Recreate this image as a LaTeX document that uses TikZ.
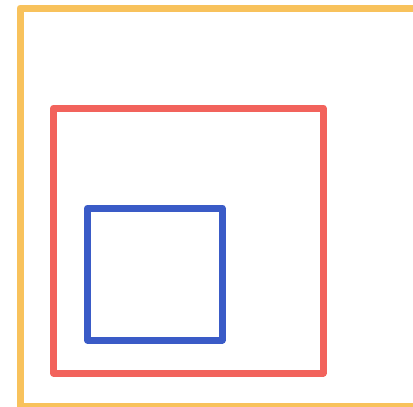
\documentclass[tikz,border=0pt]{standalone}
\usepackage{tikz}

\definecolor{boxorange}{RGB}{248,194,92}
\definecolor{boxred}{RGB}{242,99,92}
\definecolor{boxblue}{RGB}{58,91,199}

\begin{document}
\begin{tikzpicture}[
    x=1pt, y=-1pt,
    box/.style={line width=7pt, line join=round},
    outerbox/.style={box, draw=boxorange},
    middlebox/.style={box, draw=boxred},
    innerbox/.style={box, draw=boxblue}
]

% Page frame
\useasboundingbox (0,0) rectangle (413,407);
\clip (0,0) rectangle (413,407);

% Nested boxes
\draw[outerbox]  (20,8)    rectangle (440,406);
\draw[middlebox] (53.5,108) rectangle (323,373);
\draw[innerbox]  (87.5,208) rectangle (222,340);

\end{tikzpicture}
\end{document}
